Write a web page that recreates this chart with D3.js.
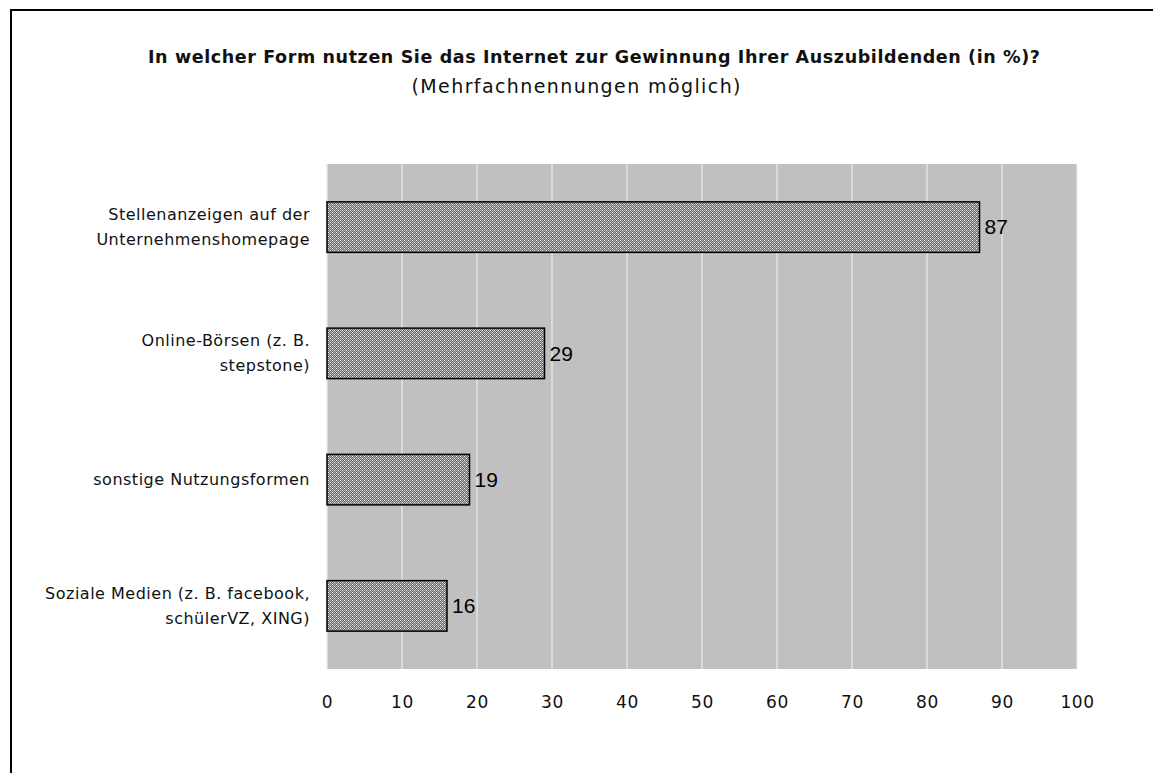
<!DOCTYPE html>
<html>
<head>
<meta charset="utf-8">
<script src="https://cdn.jsdelivr.net/npm/d3@7"></script>
<style>
  body { margin: 0; background: #fff; }
  svg { display: block; }
</style>
</head>
<body>
<svg id="chart"></svg>
<script>
// Data
const categories = [
    ["Stellenanzeigen auf der", "Unternehmenshomepage"],
    ["Online-Börsen (z. B.", "stepstone)"],
    ["sonstige Nutzungsformen"],
    ["Soziale Medien (z. B. facebook,", "schülerVZ, XING)"]
];
const values = [87, 29, 19, 16];
const xTicks = [0, 10, 20, 30, 40, 50, 60, 70, 80, 90, 100];

const width = 1153;
const height = 773;
const plot = { left: 327, right: 1077, top: 164, bottom: 669 };
const uiFont = "'DejaVu Sans', 'Noto Sans', sans-serif";

const svg = d3.select("#chart")
    .attr("width", width)
    .attr("height", height);

// Dithered fill for the bars
const defs = svg.append("defs");
const pat = defs.append("pattern")
    .attr("id", "dither")
    .attr("patternUnits", "userSpaceOnUse")
    .attr("width", 4)
    .attr("height", 4);
pat.append("rect").attr("width", 4).attr("height", 4).attr("fill", "#6a6a6a");
[[0, 0], [2, 0], [1, 1], [3, 1], [0, 2], [2, 2], [1, 3], [3, 3]].forEach(([px, py]) => {
    pat.append("rect").attr("x", px).attr("y", py).attr("width", 1).attr("height", 1).attr("fill", "#b4b4b4");
});
[[0, 0], [2, 2]].forEach(([px, py]) => {
    pat.append("rect").attr("x", px).attr("y", py).attr("width", 1).attr("height", 1).attr("fill", "#f4f4f4");
});

// Frame (only left and top edges are visible in the reference)
svg.append("rect")
    .attr("x", 11)
    .attr("y", 10)
    .attr("width", width + 20)
    .attr("height", height + 20)
    .attr("fill", "none")
    .attr("stroke", "#000")
    .attr("stroke-width", 2);

// Title
svg.append("text")
    .attr("x", 594)
    .attr("y", 63)
    .attr("text-anchor", "middle")
    .attr("textLength", 892)
    .attr("lengthAdjust", "spacing")
    .style("font-family", uiFont)
    .style("font-size", "17.5px")
    .style("font-weight", "bold")
    .style("fill", "#111")
    .text("In welcher Form nutzen Sie das Internet zur Gewinnung Ihrer Auszubildenden (in %)?");

svg.append("text")
    .attr("x", 576)
    .attr("y", 93)
    .attr("text-anchor", "middle")
    .attr("textLength", 329)
    .attr("lengthAdjust", "spacing")
    .style("font-family", uiFont)
    .style("font-size", "19px")
    .style("fill", "#111")
    .text("(Mehrfachnennungen möglich)");

const x = d3.scaleLinear()
    .domain([0, 100])
    .range([plot.left, plot.right]);

const y = d3.scaleBand()
    .domain(d3.range(categories.length))
    .range([plot.top, plot.bottom])
    .paddingInner(0.6)
    .paddingOuter(0.3);

// Plot background and grid
svg.append("rect")
    .attr("x", plot.left)
    .attr("y", plot.top)
    .attr("width", plot.right - plot.left)
    .attr("height", plot.bottom - plot.top)
    .attr("fill", "#c0c0c0");

svg.append("g")
    .selectAll("line")
    .data(xTicks)
    .enter().append("line")
    .attr("x1", d => x(d))
    .attr("x2", d => x(d))
    .attr("y1", plot.top)
    .attr("y2", plot.bottom)
    .attr("stroke", "#ececec")
    .attr("stroke-width", 1.2);

// x axis labels
const xAxis = svg.append("g")
    .attr("transform", `translate(0, ${plot.bottom + 19})`)
    .call(d3.axisBottom(x).tickValues(xTicks).tickSize(0).tickPadding(8));
xAxis.select(".domain").remove();
xAxis.selectAll("text")
    .style("font-family", uiFont)
    .style("font-size", "17px")
    .style("letter-spacing", "0.6px")
    .style("fill", "#111");

// Bars
svg.append("g")
    .selectAll("rect")
    .data(values)
    .enter().append("rect")
    .attr("x", x(0))
    .attr("y", (d, i) => y(i))
    .attr("width", d => x(d) - x(0))
    .attr("height", y.bandwidth())
    .attr("fill", "url(#dither)")
    .attr("stroke", "#000")
    .attr("stroke-width", 1.5);

// Value labels
svg.append("g")
    .selectAll("text")
    .data(values)
    .enter().append("text")
    .attr("x", d => x(d) + 5)
    .attr("y", (d, i) => y(i) + y.bandwidth() / 2)
    .attr("dy", "0.35em")
    .style("font-family", "'Liberation Sans', Arial, sans-serif")
    .style("font-size", "21px")
    .style("fill", "#000")
    .text(d => d);

// Category labels
const catG = svg.append("g");
categories.forEach((lines, i) => {
    const cy = y(i) + y.bandwidth() / 2;
    const lh = 25;
    const t = catG.append("text")
        .attr("text-anchor", "end")
        .style("font-family", uiFont)
        .style("font-size", "16px")
        .style("letter-spacing", "0.5px")
        .style("fill", "#111");
    lines.forEach((ln, j) => {
        t.append("tspan")
            .attr("x", 310)
            .attr("y", cy + (j - (lines.length - 1) / 2) * lh)
            .attr("dy", "0.35em")
            .text(ln);
    });
});
</script>
</body>
</html>
